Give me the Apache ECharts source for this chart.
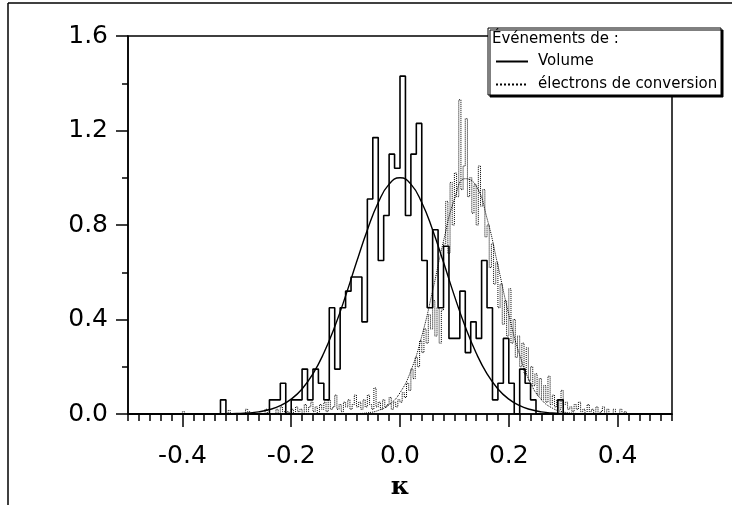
<!DOCTYPE html>
<html>
<head>
<meta charset="utf-8">
<script src="https://cdn.jsdelivr.net/npm/echarts@6/dist/echarts.min.js"></script>
<style>
  html, body { margin: 0; padding: 0; background: #fff; }
  #chart { width: 732px; height: 505px; }
</style>
</head>
<body>
<div id="chart"></div>
<script>
// histogramme "Volume" : pas de 0.01, premier bord a -0.34
var volumeStart = -0.34;
var volumeBinWidth = 0.01;
var volumeCounts = [
  0, 0.06, 0, 0, 0, 0, 0, 0, 0, 0,
  0.06, 0.06, 0.13, 0, 0.06, 0.06, 0.19, 0.06, 0.19, 0.13,
  0.06, 0.45, 0.19, 0.45, 0.52, 0.58, 0.58, 0.39, 0.91, 1.17,
  0.65, 0.84, 1.10, 1.04, 1.43, 0.84, 1.10, 1.23, 0.65, 0.45,
  0.78, 0.45, 0.71, 0.32, 0.32, 0.52, 0.26, 0.39, 0.32, 0.65,
  0.45, 0.06, 0.13, 0.32, 0.13, 0, 0.19, 0.13, 0.06, 0,
  0, 0, 0, 0.06, 0
];

// histogramme "electrons de conversion" : pas de 0.004, premier bord a -0.4
var electronStart = -0.4;
var electronBinWidth = 0.004;
var electronCounts = [
  // -0.400 .. -0.204
  0.01, 0, 0, 0, 0, 0, 0, 0, 0, 0,
  0, 0, 0, 0, 0, 0, 0, 0, 0, 0,
  0, 0.015, 0, 0, 0, 0, 0, 0, 0, 0.02,
  0.01, 0, 0, 0, 0, 0, 0, 0, 0.02, 0,
  0, 0, 0, 0.02, 0, 0.03, 0.01, 0, 0.01, 0,
  // -0.200 .. 0.420
  0.02, 0.00, 0.03, 0.01, 0.02, 0.00, 0.04, 0.01, 0.03, 0.05,
  0.01, 0.03, 0.00, 0.04, 0.02, 0.05, 0.01, 0.06, 0.02, 0.03,
  0.08, 0.02, 0.04, 0.01, 0.05, 0.03, 0.06, 0.02, 0.04, 0.08,
  0.03, 0.05, 0.02, 0.06, 0.03, 0.08, 0.04, 0.02, 0.11, 0.03,
  0.05, 0.02, 0.06, 0.03, 0.04, 0.07, 0.02, 0.05, 0.03, 0.06,
  0.05, 0.09, 0.07, 0.13, 0.10, 0.19, 0.15, 0.24, 0.20, 0.31,
  0.26, 0.36, 0.30, 0.42, 0.36, 0.48, 0.33, 0.45, 0.30, 0.44,
  0.72, 0.90, 0.68, 0.98, 0.80, 1.02, 0.92, 1.33, 0.95, 1.05,
  1.25, 0.92, 1.00, 0.85, 0.97, 0.80, 1.05, 0.88, 0.95, 0.75,
  0.80, 0.62, 0.72, 0.55, 0.64, 0.45, 0.55, 0.38, 0.48, 0.33,
  0.53, 0.30, 0.40, 0.24, 0.33, 0.20, 0.30, 0.17, 0.28, 0.14,
  0.20, 0.12, 0.17, 0.08, 0.15, 0.06, 0.12, 0.05, 0.16, 0.04,
  0.08, 0.03, 0.06, 0.02, 0.10, 0.04, 0.05, 0.02, 0.03, 0.01,
  0.04, 0.02, 0.05, 0.01, 0.02, 0.00, 0.04, 0.01, 0.02, 0.00,
  0.03, 0.00, 0.01, 0.03, 0.00, 0.02, 0.00, 0.00, 0.02, 0.00,
  0.00, 0.02, 0.00, 0.01, 0.00
];

// courbes ajustees
var fitX = [-0.50, -0.40, -0.34, -0.32, -0.30, -0.28, -0.26, -0.24, -0.22, -0.20,
  -0.18, -0.16, -0.14, -0.12, -0.10, -0.08, -0.06, -0.04, -0.02, 0.00,
  0.02, 0.04, 0.06, 0.08, 0.10, 0.12, 0.14, 0.16, 0.18, 0.20,
  0.22, 0.24, 0.26, 0.28, 0.30, 0.32, 0.34, 0.40, 0.50];
var volumeFit = [0, 0, 0.0003, 0.0008, 0.002, 0.004, 0.009, 0.019, 0.035, 0.063,
  0.106, 0.170, 0.258, 0.369, 0.500, 0.642, 0.779, 0.895, 0.973, 1.000,
  0.973, 0.895, 0.779, 0.642, 0.500, 0.369, 0.258, 0.170, 0.106, 0.063,
  0.035, 0.019, 0.009, 0.004, 0.002, 0.0008, 0.0003, 0, 0];
var electronFit = [0, 0, 0, 0, 0, 0, 0, 0, 0, 0,
  0, 0, 0, 0, 0.0004, 0.0016, 0.005, 0.015, 0.039, 0.090,
  0.183, 0.329, 0.522, 0.732, 0.908, 0.996, 0.966, 0.828, 0.628, 0.421,
  0.250, 0.131, 0.061, 0.025, 0.009, 0.003, 0.001, 0, 0];

var xMajorTicks = [-0.4, -0.2, 0, 0.2, 0.4];

function stepPoints(start, width, values) {
  var pts = [[-0.5, 0]];
  for (var i = 0; i < values.length; i++) {
    pts.push([+(start + i * width).toFixed(4), values[i]]);
  }
  pts.push([+(start + values.length * width).toFixed(4), 0]);
  pts.push([0.5, 0]);
  return pts;
}
function zipXY(xs, ys) {
  return xs.map(function (x, i) { return [x, ys[i]]; });
}

var dom = document.getElementById('chart');
var myChart = echarts.init(dom);
var font = 'DejaVu Sans';
var option = {
  backgroundColor: '#fff',
  animation: false,
  grid: {
    left: 128, right: 60, top: 36, bottom: 90,
    show: true, borderColor: '#000', borderWidth: 1.5, backgroundColor: 'transparent'
  },
  legend: {
    data: ['Volume', 'électrons de conversion'],
    orient: 'vertical',
    left: 495, top: 54, padding: 0,
    itemWidth: 32, itemHeight: 12, itemGap: 8,
    itemStyle: { opacity: 0 },
    z: 20,
    textStyle: { fontFamily: font, fontSize: 15, color: '#000', padding: [0, 0, 0, 5] }
  },
  xAxis: [{
    type: 'value', min: -0.5, max: 0.5, interval: 0.02,
    axisLine: { onZero: false, lineStyle: { color: '#000', width: 1.5 } },
    axisTick: { length: 7, lineStyle: { color: '#000', width: 1.5 } },
    axisLabel: { show: false },
    splitLine: { show: false },
    name: 'κ', nameLocation: 'middle', nameGap: 61,
    nameTextStyle: { fontFamily: 'DejaVu Serif', fontWeight: 'bold', fontSize: 25, color: '#000' }
  }, {
    type: 'value', min: -0.5, max: 0.5, position: 'bottom',
    axisLine: { show: false, onZero: false },
    axisTick: { length: 13, customValues: xMajorTicks, lineStyle: { color: '#000', width: 1.5 } },
    axisLabel: {
      customValues: xMajorTicks, margin: 30,
      fontFamily: font, fontSize: 25, color: '#000',
      formatter: function (v) { return v.toFixed(1); }
    },
    splitLine: { show: false }
  }],
  yAxis: [{
    type: 'value', min: 0, max: 1.6, interval: 0.2, position: 'left',
    axisLine: { show: true, onZero: false, lineStyle: { color: '#000', width: 1.5 } },
    axisTick: { show: true, length: 6, lineStyle: { color: '#000', width: 1.5 } },
    axisLabel: { show: false },
    splitLine: { show: false }
  }, {
    type: 'value', min: 0, max: 1.6, interval: 0.4, position: 'left', offset: 0,
    axisLine: { show: false, onZero: false },
    axisTick: { show: true, length: 12, lineStyle: { color: '#000', width: 1.5 } },
    axisLabel: {
      margin: 20, fontFamily: font, fontSize: 25, color: '#000',
      formatter: function (v) { return v.toFixed(1); }
    },
    splitLine: { show: false }
  }],
  series: [{
    name: 'Volume', type: 'line', step: 'end', symbol: 'none',
    lineStyle: { color: '#000', width: 1.6 },
    itemStyle: { color: '#000' },
    data: stepPoints(volumeStart, volumeBinWidth, volumeCounts)
  }, {
    name: 'Volume (ajustement)', type: 'line', smooth: true, symbol: 'none',
    lineStyle: { color: '#000', width: 1.4 },
    data: zipXY(fitX, volumeFit)
  }, {
    name: 'électrons de conversion', type: 'line', step: 'end', symbol: 'none',
    lineStyle: { color: '#000', width: 1, type: 'dotted' },
    itemStyle: { color: '#000' },
    data: stepPoints(electronStart, electronBinWidth, electronCounts)
  }, {
    name: 'électrons (ajustement)', type: 'line', smooth: true, symbol: 'none',
    lineStyle: { color: '#000', width: 1, type: 'dotted' },
    data: zipXY(fitX, electronFit)
  }],
  graphic: [
    { type: 'line', z: 30, shape: { x1: 8, y1: 3, x2: 732, y2: 3 }, style: { stroke: '#000', lineWidth: 1.5 } },
    { type: 'line', z: 30, shape: { x1: 8, y1: 3, x2: 8, y2: 505 }, style: { stroke: '#000', lineWidth: 1.5 } },
    {
      type: 'rect', z: 10, shape: { x: 488, y: 28, width: 233, height: 67 },
      style: { fill: '#fff', stroke: '#000', lineWidth: 1, shadowColor: '#000', shadowOffsetX: 2, shadowOffsetY: 2, shadowBlur: 0 }
    },
    {
      type: 'text', z: 20, left: 492, top: 32,
      style: { text: 'Événements de :', font: '15px "DejaVu Sans"', fill: '#000' }
    }
  ]
};
myChart.setOption(option, true);
</script>
</body>
</html>
